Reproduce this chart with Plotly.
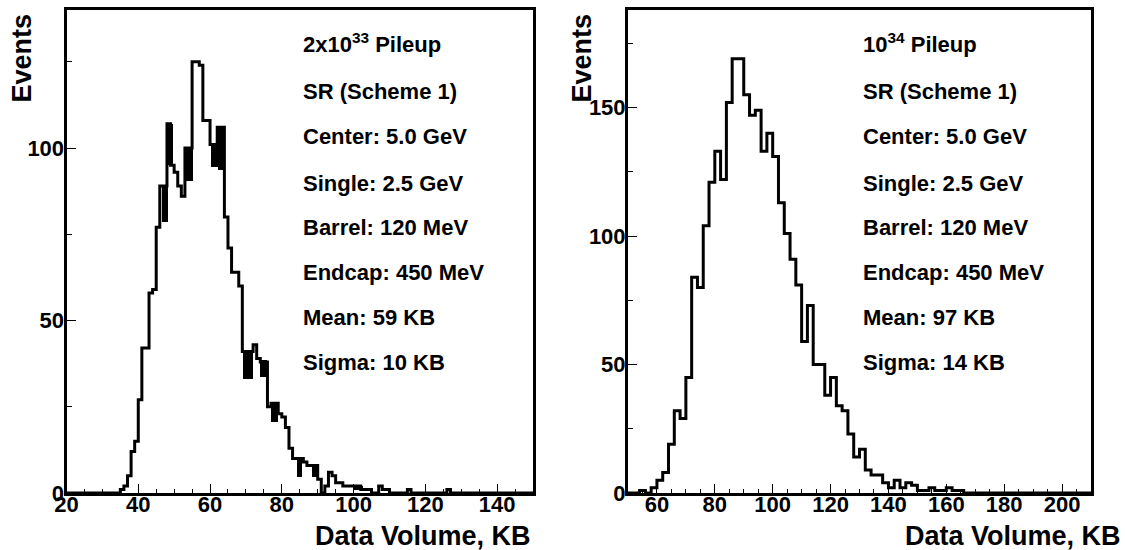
import plotly.graph_objects as go

# ---------------- data ----------------
# 2x10^33 pileup: 1 KB bins from 20 to 150 KB
left_bin_lo = 20
left_bin_width = 1
left_counts = [
    0, 0, 0, 0, 0, 0, 0, 0, 0, 0,          # 20-29
    0, 0, 0, 0, 0, 1, 2, 5, 12, 15,        # 30-39
    27, 42, 42, 58, 59, 77, 89, 89, 107, 95,   # 40-49
    93, 89, 86, 100, 100, 125, 125, 124, 108, 108,  # 50-59
    101, 101, 106, 106, 80, 71, 64, 64, 60, 41,    # 60-69
    41, 41, 43, 39, 38, 38, 25, 26, 26, 23,        # 70-79
    22, 19, 13, 10, 10, 10, 9, 8, 8, 8,            # 80-89
    4, 0, 2, 6, 5, 3, 3, 2, 2, 2,                  # 90-99
    2, 2, 1, 1, 1, 0, 0, 2, 1, 1,                  # 100-109
    0, 0, 0, 0, 0, 1, 0, 0, 0, 0,                  # 110-119
    0, 0, 0, 0, 0, 0, 1, 0, 0, 0,                  # 120-129
    0, 0, 0, 0, 0, 0, 0, 0, 0, 0,                  # 130-139
    0, 0, 0, 0, 0, 0, 0, 0, 0, 0,                  # 140-149
]
# densely filled stretches of the histogram (x from, x to, low, high)
left_band_x0 = [46.5, 48.0, 53.0, 60.0, 62.2, 69.0, 73.7, 76.8, 84.0, 88.2, 99.8]
left_band_x1 = [48.2, 49.4, 55.0, 62.0, 64.0, 71.8, 75.6, 78.8, 85.4, 90.3, 102.6]
left_band_lo = [78.5, 95.0, 90.5, 94.6, 93.6, 33.0, 33.7, 20.7, 4.7, 4.7, 1.0]
left_band_hi = [89.0, 107.0, 100.0, 101.3, 106.0, 41.4, 38.5, 26.0, 10.0, 8.1, 2.0]

# 10^34 pileup: 2 KB bins from 50 to 210 KB
right_bin_lo = 50
right_bin_width = 2
right_counts = [
    0, 0, 1, 0, 2, 5, 8, 19, 32, 29,               # 50-68
    45, 84, 80, 104, 121, 133, 122, 152, 169, 169, # 70-88
    155, 147, 149, 133, 140, 131, 113, 101, 91, 81,  # 90-108
    59, 73, 50, 50, 38, 45, 34, 32, 23, 14,        # 110-128
    17, 9, 7, 7, 4, 2, 5, 2, 4, 3,                 # 130-148
    1, 1, 2, 1, 1, 2, 1, 1, 0, 0,                  # 150-168
    0, 0, 0, 0, 0, 0, 0, 0, 0, 0,                  # 170-188
    0, 0, 0, 0, 0, 0, 0, 0, 0, 0,                  # 190-208
]

left_labels = ["2x10<sup>33</sup> Pileup", "SR (Scheme 1)", "Center: 5.0 GeV",
               "Single: 2.5 GeV", "Barrel: 120 MeV", "Endcap: 450 MeV",
               "Mean: 59 KB", "Sigma: 10 KB"]
right_labels = ["10<sup>34</sup> Pileup", "SR (Scheme 1)", "Center: 5.0 GeV",
                "Single: 2.5 GeV", "Barrel: 120 MeV", "Endcap: 450 MeV",
                "Mean: 97 KB", "Sigma: 14 KB"]

x_title = "Data Volume, KB"
y_title = "Events"

# ---------------- figure ----------------
W, H = 1125, 550
FONT = "Liberation Sans"


def step_xy(lo, width, counts):
    edges = [lo + i * width for i in range(len(counts) + 1)]
    return edges, list(counts) + [counts[-1]]


fig = go.Figure()

# bands (drawn first, outline on top)
fig.add_trace(go.Bar(
    x=[(a + b) / 2 for a, b in zip(left_band_x0, left_band_x1)],
    width=[b - a for a, b in zip(left_band_x0, left_band_x1)],
    base=left_band_lo,
    y=[h - l for l, h in zip(left_band_lo, left_band_hi)],
    marker=dict(color="black", line=dict(width=0)),
    xaxis="x", yaxis="y", showlegend=False, hoverinfo="skip",
))

lx, ly = step_xy(left_bin_lo, left_bin_width, left_counts)
fig.add_trace(go.Scatter(x=lx, y=ly, mode="lines", line=dict(shape="hv", color="black", width=3),
                         xaxis="x", yaxis="y", showlegend=False))

rx, ry = step_xy(right_bin_lo, right_bin_width, right_counts)
fig.add_trace(go.Scatter(x=rx, y=ry, mode="lines", line=dict(shape="hv", color="black", width=3),
                         xaxis="x2", yaxis="y2", showlegend=False))

tickfont = dict(family=FONT, size=22, color="black")

common_axis = dict(
    showgrid=False, zeroline=False, showline=True, linecolor="black", linewidth=3,
    mirror=True, ticks="inside", ticklen=9, tickwidth=1, tickcolor="black",
    tickfont=tickfont, tickprefix="<b>", ticksuffix="</b>", automargin=False,
)
x_minor = dict(dtick=5, tick0=0, ticks="inside", ticklen=4, tickcolor="black", tickwidth=1)
y_minor = dict(dtick=25, tick0=0, ticks="inside", ticklen=5, tickcolor="black", tickwidth=1)

L_dom = [66.5 / W, 533 / W]
R_dom = [628 / W, 1091 / W]
Y_dom = [1 - 493 / H, 1 - 10 / H]

fig.update_layout(
    width=W, height=H,
    margin=dict(l=0, r=0, t=0, b=0, autoexpand=False),
    paper_bgcolor="white", plot_bgcolor="white",
    barmode="overlay", bargap=0,
    xaxis=dict(common_axis, domain=L_dom, range=[20, 150], tick0=0, dtick=20, anchor="y",
               ticklabelstandoff=-10, minor=x_minor),
    yaxis=dict(common_axis, domain=Y_dom, range=[0, 140], tick0=0, dtick=50, anchor="x",
               ticklabelstandoff=-5, minor=y_minor),
    xaxis2=dict(common_axis, domain=R_dom, range=[50, 210], tick0=0, dtick=20, anchor="y2",
                ticklabelstandoff=-10, minor=x_minor),
    yaxis2=dict(common_axis, domain=Y_dom, range=[0, 188], tick0=0, dtick=50, anchor="x2",
                ticklabelstandoff=-5, minor=y_minor),
)

annotations = []
label_font = dict(family=FONT, size=22, color="black")
title_font = dict(family=FONT, size=27, color="black")
line_y = [43, 92, 137, 183, 227, 272, 317, 362]

for x0, labels in ((301, left_labels), (861, right_labels)):
    for yy, txt in zip(line_y, labels):
        annotations.append(dict(
            text="<b>" + txt + "</b>", xref="paper", yref="paper", x=x0 / W, y=1 - yy / H,
            xanchor="left", yanchor="middle", showarrow=False, font=label_font,
        ))

# axis titles
for xr, xl in ((533, 21), (1123, 581)):
    annotations.append(dict(
        text="<b>" + x_title + "</b>", xref="paper", yref="paper", x=xr / W, y=1 - 536 / H,
        xanchor="right", yanchor="middle", showarrow=False, font=title_font,
    ))
    annotations.append(dict(
        text="<b>" + y_title + "</b>", xref="paper", yref="paper", x=xl / W, y=1 - 12 / H,
        xanchor="center", yanchor="top", textangle=-90, showarrow=False, font=title_font,
    ))

fig.update_layout(annotations=annotations)

fig.write_html("out.html")
